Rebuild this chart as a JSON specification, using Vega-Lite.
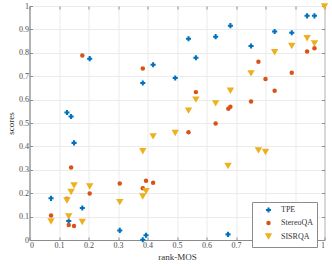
{
  "$schema": "https://vega.github.io/schema/vega-lite/v6.json",
  "autosize": "none",
  "width": 295,
  "height": 234,
  "padding": {"left": 29.5, "top": 6, "right": 7.5, "bottom": 28},
  "background": "white",
  "config": {
    "view": {"stroke": "#8c8c8c", "strokeWidth": 1},
    "axis": {
      "labelFont": "Liberation Serif",
      "titleFont": "Liberation Serif",
      "labelFontSize": 8,
      "titleFontSize": 9,
      "labelColor": "#4d4d4d",
      "titleColor": "#333333",
      "titleFontWeight": "normal",
      "domainColor": "#8c8c8c",
      "tickColor": "#8c8c8c",
      "gridColor": "#ebebeb",
      "tickSize": -3,
      "labelPadding": 4
    }
  },
  "data": {
    "values": [
      {"rank": 0.073, "score": 0.178, "method": "TPE"},
      {"rank": 0.127, "score": 0.545, "method": "TPE"},
      {"rank": 0.133, "score": 0.081, "method": "TPE"},
      {"rank": 0.141, "score": 0.528, "method": "TPE"},
      {"rank": 0.151, "score": 0.415, "method": "TPE"},
      {"rank": 0.179, "score": 0.137, "method": "TPE"},
      {"rank": 0.204, "score": 0.775, "method": "TPE"},
      {"rank": 0.306, "score": 0.041, "method": "TPE"},
      {"rank": 0.384, "score": 0.671, "method": "TPE"},
      {"rank": 0.384, "score": 0.001, "method": "TPE"},
      {"rank": 0.395, "score": 0.020, "method": "TPE"},
      {"rank": 0.419, "score": 0.749, "method": "TPE"},
      {"rank": 0.494, "score": 0.692, "method": "TPE"},
      {"rank": 0.539, "score": 0.860, "method": "TPE"},
      {"rank": 0.564, "score": 0.779, "method": "TPE"},
      {"rank": 0.631, "score": 0.869, "method": "TPE"},
      {"rank": 0.673, "score": 0.024, "method": "TPE"},
      {"rank": 0.681, "score": 0.916, "method": "TPE"},
      {"rank": 0.751, "score": 0.829, "method": "TPE"},
      {"rank": 0.831, "score": 0.891, "method": "TPE"},
      {"rank": 0.889, "score": 0.886, "method": "TPE"},
      {"rank": 0.941, "score": 0.958, "method": "TPE"},
      {"rank": 0.966, "score": 0.958, "method": "TPE"},
      {"rank": 0.073, "score": 0.105, "method": "StereoQA"},
      {"rank": 0.127, "score": 0.176, "method": "StereoQA"},
      {"rank": 0.133, "score": 0.064, "method": "StereoQA"},
      {"rank": 0.141, "score": 0.310, "method": "StereoQA"},
      {"rank": 0.151, "score": 0.060, "method": "StereoQA"},
      {"rank": 0.179, "score": 0.788, "method": "StereoQA"},
      {"rank": 0.204, "score": 0.199, "method": "StereoQA"},
      {"rank": 0.306, "score": 0.241, "method": "StereoQA"},
      {"rank": 0.384, "score": 0.733, "method": "StereoQA"},
      {"rank": 0.384, "score": 0.221, "method": "StereoQA"},
      {"rank": 0.395, "score": 0.253, "method": "StereoQA"},
      {"rank": 0.419, "score": 0.245, "method": "StereoQA"},
      {"rank": 0.539, "score": 0.460, "method": "StereoQA"},
      {"rank": 0.564, "score": 0.632, "method": "StereoQA"},
      {"rank": 0.631, "score": 0.498, "method": "StereoQA"},
      {"rank": 0.674, "score": 0.561, "method": "StereoQA"},
      {"rank": 0.681, "score": 0.569, "method": "StereoQA"},
      {"rank": 0.751, "score": 0.592, "method": "StereoQA"},
      {"rank": 0.776, "score": 0.762, "method": "StereoQA"},
      {"rank": 0.800, "score": 0.688, "method": "StereoQA"},
      {"rank": 0.831, "score": 0.638, "method": "StereoQA"},
      {"rank": 0.889, "score": 0.715, "method": "StereoQA"},
      {"rank": 0.941, "score": 0.806, "method": "StereoQA"},
      {"rank": 0.966, "score": 0.819, "method": "StereoQA"},
      {"rank": 0.073, "score": 0.079, "method": "SISRQA"},
      {"rank": 0.127, "score": 0.169, "method": "SISRQA"},
      {"rank": 0.133, "score": 0.101, "method": "SISRQA"},
      {"rank": 0.141, "score": 0.205, "method": "SISRQA"},
      {"rank": 0.151, "score": 0.233, "method": "SISRQA"},
      {"rank": 0.179, "score": 0.077, "method": "SISRQA"},
      {"rank": 0.204, "score": 0.229, "method": "SISRQA"},
      {"rank": 0.306, "score": 0.162, "method": "SISRQA"},
      {"rank": 0.384, "score": 0.379, "method": "SISRQA"},
      {"rank": 0.384, "score": 0.186, "method": "SISRQA"},
      {"rank": 0.395, "score": 0.208, "method": "SISRQA"},
      {"rank": 0.419, "score": 0.443, "method": "SISRQA"},
      {"rank": 0.494, "score": 0.457, "method": "SISRQA"},
      {"rank": 0.539, "score": 0.553, "method": "SISRQA"},
      {"rank": 0.564, "score": 0.600, "method": "SISRQA"},
      {"rank": 0.631, "score": 0.584, "method": "SISRQA"},
      {"rank": 0.673, "score": 0.316, "method": "SISRQA"},
      {"rank": 0.681, "score": 0.638, "method": "SISRQA"},
      {"rank": 0.751, "score": 0.712, "method": "SISRQA"},
      {"rank": 0.776, "score": 0.383, "method": "SISRQA"},
      {"rank": 0.800, "score": 0.376, "method": "SISRQA"},
      {"rank": 0.831, "score": 0.802, "method": "SISRQA"},
      {"rank": 0.889, "score": 0.829, "method": "SISRQA"},
      {"rank": 0.941, "score": 0.862, "method": "SISRQA"},
      {"rank": 0.966, "score": 0.840, "method": "SISRQA"},
      {"rank": 1.0, "score": 0.998, "method": "SISRQA"}
    ]
  },
  "layer": [
    {
      "mark": {"type": "point", "filled": true, "opacity": 1, "clip": false},
      "encoding": {
        "x": {
          "field": "rank", "type": "quantitative",
          "scale": {"domain": [0, 1], "nice": false, "zero": false},
          "axis": {"orient": "bottom", "values": [0, 0.1, 0.2, 0.3, 0.4, 0.5, 0.6, 0.7, 0.8, 0.9, 1], "format": "~g", "title": "rank-MOS", "titlePadding": 3}
        },
        "y": {
          "field": "score", "type": "quantitative",
          "scale": {"domain": [0, 1], "nice": false, "zero": false},
          "axis": {"orient": "left", "values": [0, 0.1, 0.2, 0.3, 0.4, 0.5, 0.6, 0.7, 0.8, 0.9, 1], "format": "~g", "title": "scores", "titlePadding": 3}
        },
        "color": {
          "field": "method", "type": "nominal",
          "scale": {"domain": ["TPE", "StereoQA", "SISRQA"], "range": ["#0072BD", "#D95319", "#EDB120"]},
          "legend": {
            "title": null,
            "orient": "none",
            "legendX": 222.5,
            "legendY": 196,
            "fillColor": "white",
            "strokeColor": "#8c8c8c",
            "padding": 4,
            "labelFont": "Liberation Serif",
            "labelFontSize": 8,
            "labelColor": "#333333",
            "rowPadding": 1,
            "symbolOffset": 8,
            "labelOffset": 8,
            "symbolSize": 40,
            "symbolOpacity": 1,
            "labelLimit": 100
          }
        },
        "shape": {
          "field": "method", "type": "nominal",
          "scale": {"domain": ["TPE", "StereoQA", "SISRQA"], "range": ["cross", "circle", "triangle-down"]}
        },
        "size": {
          "field": "method", "type": "nominal",
          "scale": {"type": "ordinal", "domain": ["TPE", "StereoQA", "SISRQA"], "range": [26, 20, 55]},
          "legend": null
        }
      }
    },
    {
      "mark": {"type": "point", "opacity": 0},
      "encoding": {
        "x": {
          "field": "rank", "type": "quantitative",
          "axis": {"orient": "top", "values": [0, 0.1, 0.2, 0.3, 0.4, 0.5, 0.6, 0.7, 0.8, 0.9, 1], "labels": false, "grid": false, "title": null, "domain": false}
        },
        "y": {
          "field": "score", "type": "quantitative",
          "axis": {"orient": "right", "values": [0, 0.1, 0.2, 0.3, 0.4, 0.5, 0.6, 0.7, 0.8, 0.9, 1], "labels": false, "grid": false, "title": null, "domain": false}
        }
      }
    }
  ]
}
